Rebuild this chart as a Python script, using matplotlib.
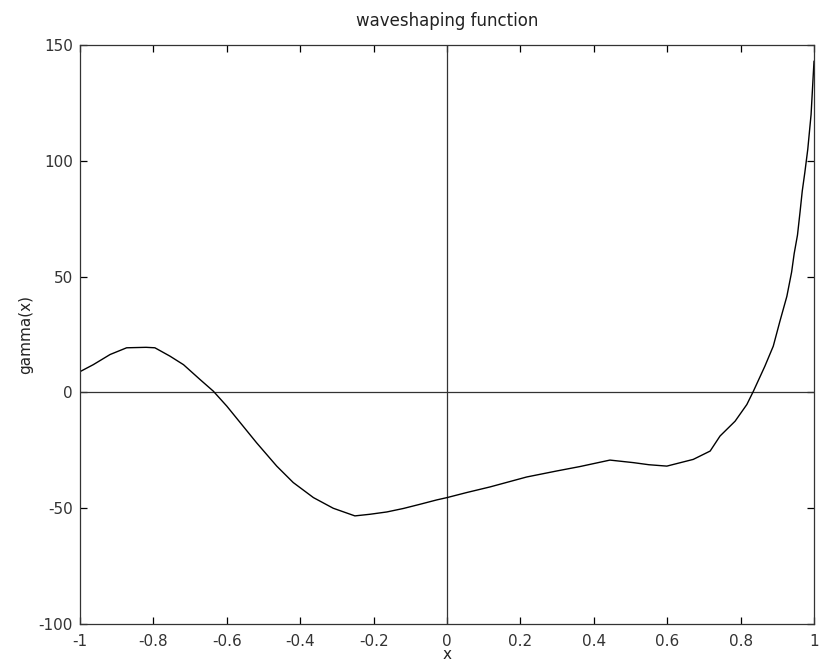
import matplotlib
matplotlib.use("Agg")
import matplotlib.pyplot as plt

# Sampled waveshaping curve gamma(x)
x_vals = [-1.0, -0.964, -0.918, -0.873, -0.82, -0.796, -0.755, -0.718, -0.673,
          -0.637, -0.600, -0.519, -0.464, -0.419, -0.364, -0.310, -0.251, -0.210,
          -0.164, -0.119, -0.074, -0.028, 0.0, 0.054, 0.117, 0.217, 0.299, 0.362,
          0.444, 0.508, 0.55, 0.599, 0.671, 0.717, 0.744, 0.785, 0.817, 0.835,
          0.866, 0.889, 0.907, 0.926, 0.939, 0.946, 0.955, 0.962, 0.968, 0.975,
          0.983, 0.992, 1.0]
gamma_vals = [9.0, 12.0, 16.4, 19.3, 19.5, 19.3, 15.7, 12.0, 5.6,
              0.6, -5.9, -21.7, -31.8, -38.9, -45.4, -50.0, -53.3, -52.6,
              -51.6, -50.1, -48.3, -46.4, -45.4, -43.2, -40.8, -36.5, -33.9, -32.0,
              -29.2, -30.3, -31.2, -31.8, -28.9, -25.3, -18.8, -12.4, -5.2, 0.6,
              11.3, 20.0, 30.7, 41.5, 52.0, 60.0, 68.0, 78.0, 87.0, 95.0,
              105.0, 120.0, 143.0]

x_ticks = [-1, -0.8, -0.6, -0.4, -0.2, 0, 0.2, 0.4, 0.6, 0.8, 1]
x_tick_labels = ["-1", "-0.8", "-0.6", "-0.4", "-0.2", "0", "0.2", "0.4", "0.6", "0.8", "1"]
y_ticks = [-100, -50, 0, 50, 100, 150]
y_tick_labels = ["-100", "-50", "0", "50", "100", "150"]

plt.rcParams["font.family"] = ["DejaVu Sans"]

fig = plt.figure(figsize=(8.19, 6.64), dpi=100)
ax = fig.add_axes([0.0977, 0.0602, 0.8962, 0.8718])

ax.axhline(0, color="#333333", lw=0.9)
ax.axvline(0, color="#333333", lw=0.9)
ax.plot(x_vals, gamma_vals, color="black", lw=1.0)

ax.set_xlim(-1, 1)
ax.set_ylim(-100, 150)
ax.set_xticks(x_ticks)
ax.set_xticklabels(x_tick_labels)
ax.set_yticks(y_ticks)
ax.set_yticklabels(y_tick_labels)
ax.tick_params(direction="in", top=True, right=True, length=5, width=0.9,
               labelsize=11, labelcolor="#333333")
ax.tick_params(axis="x", pad=7)
ax.tick_params(axis="y", pad=5)
for s in ax.spines.values():
    s.set_linewidth(0.9)
    s.set_color("#333333")

ax.set_title("waveshaping function", fontsize=12, color="#222222", pad=14)
ax.set_xlabel("x", fontsize=11, color="#222222", labelpad=-1)
ax.set_ylabel("gamma(x)", fontsize=11, color="#222222", labelpad=4)

fig.savefig("out.png", dpi=100)
